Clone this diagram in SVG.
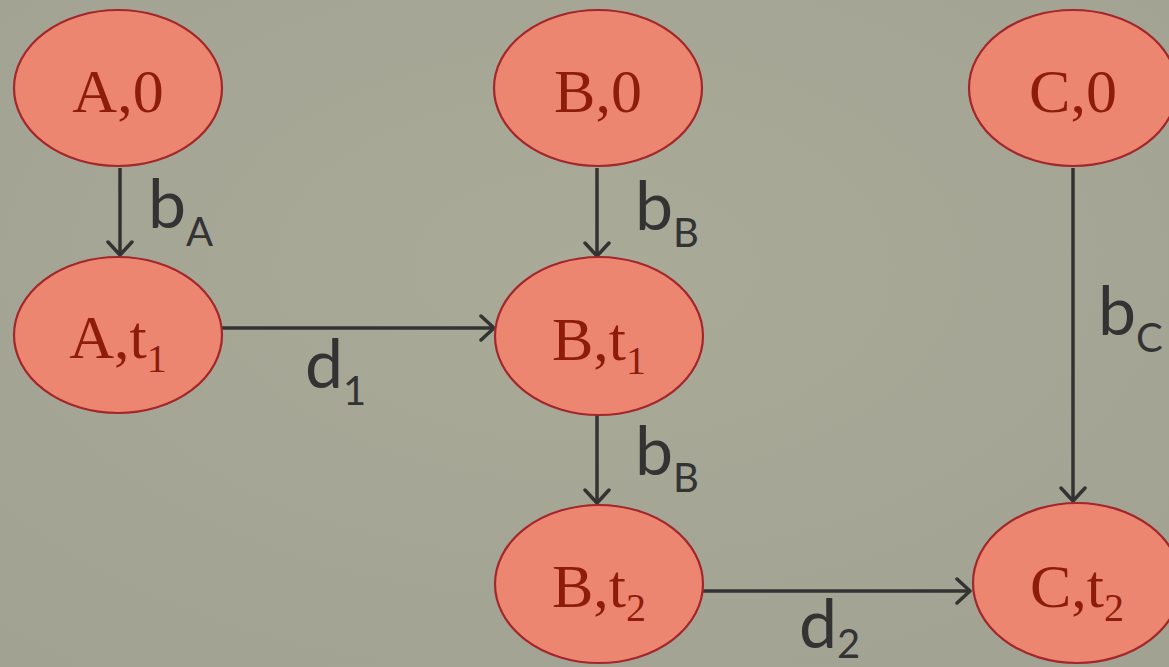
<svg xmlns="http://www.w3.org/2000/svg" width="1169" height="667" viewBox="0 0 1169 667">
  <defs>
    <marker id="arr" markerUnits="userSpaceOnUse" viewBox="-16 -14 20 28" markerWidth="20" markerHeight="28" refX="0" refY="0" orient="auto">
      <path d="M-13,-12 L0,0 L-13,12" fill="none" stroke="#333333" stroke-width="3.5" stroke-linecap="round" stroke-linejoin="round"/>
    </marker>
    <radialGradient id="bg" cx="50%" cy="40%" r="75%">
      <stop offset="0" stop-color="#aaaa99"/>
      <stop offset="1" stop-color="#a2a292"/>
    </radialGradient>
  </defs>
  <style>
    .node ellipse { fill: #ec8670; stroke: #a3262a; stroke-width: 2.2; }
    .node text { font-family: "Liberation Serif", "Times New Roman", serif; font-size: 62px; fill: #8e1c0a; text-anchor: middle; }
    .node tspan.sub { font-size: 40px; }
    .edge { stroke: #333333; stroke-width: 3.5; fill: none; marker-end: url(#arr); }
    .lbl { font-family: "Lato", "Liberation Sans", sans-serif; font-size: 68px; fill: #333333; }
    .lbl tspan.sub { font-size: 40px; }
  </style>
  <rect x="0" y="0" width="1169" height="667" fill="url(#bg)"/>

  <g id="connectors">
    <line class="edge" x1="120" y1="168" x2="120" y2="255"/>
    <line class="edge" x1="597" y1="168" x2="597" y2="256"/>
    <line class="edge" x1="597" y1="415" x2="597" y2="503"/>
    <line class="edge" x1="1073" y1="168" x2="1073" y2="501"/>
    <line class="edge" x1="221" y1="328" x2="494" y2="328"/>
    <line class="edge" x1="703" y1="591" x2="970" y2="591"/>
    <text class="lbl" x="148" y="228">b<tspan class="sub" dy="18">A</tspan></text>
    <text class="lbl" x="635" y="230">b<tspan class="sub" dy="17">B</tspan></text>
    <text class="lbl" x="635" y="475">b<tspan class="sub" dy="17">B</tspan></text>
    <text class="lbl" x="1098" y="335">b<tspan class="sub" dy="17">C</tspan></text>
    <text class="lbl" x="305" y="388">d<tspan class="sub" dy="17">1</tspan></text>
    <text class="lbl" x="799" y="648">d<tspan class="sub" dy="10">2</tspan></text>
  </g>

  <g id="node-A0" class="node">
    <ellipse cx="118" cy="88" rx="104" ry="78"/>
    <text x="118" y="112">A,0</text>
  </g>
  <g id="node-B0" class="node">
    <ellipse cx="598" cy="88" rx="104" ry="78"/>
    <text x="598" y="112">B,0</text>
  </g>
  <g id="node-C0" class="node">
    <ellipse cx="1073" cy="88" rx="104" ry="78"/>
    <text x="1073" y="112">C,0</text>
  </g>
  <g id="node-At1" class="node">
    <ellipse cx="118" cy="335" rx="104" ry="78"/>
    <text x="118" y="358">A,t<tspan class="sub" dy="14">1</tspan></text>
  </g>
  <g id="node-Bt1" class="node">
    <ellipse cx="599" cy="336" rx="104" ry="79"/>
    <text x="599" y="360">B,t<tspan class="sub" dy="14">1</tspan></text>
  </g>
  <g id="node-Bt2" class="node">
    <ellipse cx="599" cy="584" rx="104" ry="79"/>
    <text x="599" y="607">B,t<tspan class="sub" dy="14">2</tspan></text>
  </g>
  <g id="node-Ct2" class="node">
    <ellipse cx="1077" cy="583" rx="104" ry="80"/>
    <text x="1077" y="607">C,t<tspan class="sub" dy="14">2</tspan></text>
  </g>
</svg>
